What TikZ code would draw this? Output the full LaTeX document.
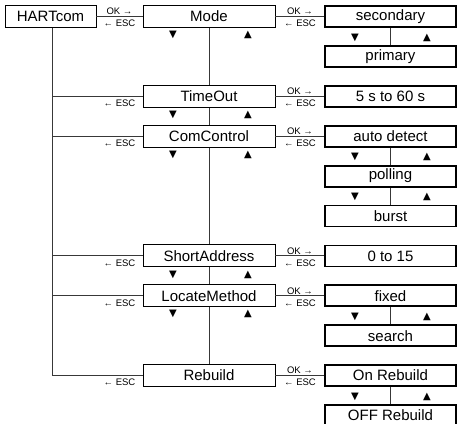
\documentclass[tikz,border=0pt]{standalone}
\usepackage{fontspec}
\setmainfont{Liberation Sans}
\newfontfamily\symfont{DejaVu Sans}
\begin{document}
\begin{tikzpicture}[x=1pt,y=-1pt,
  menu/.style={draw=black, line width=0.9pt, fill=white, minimum width=132pt, minimum height=22pt, inner sep=0pt, font=\fontsize{15}{15}\selectfont},
  val/.style={draw=black, line width=1.8pt, fill=white, minimum width=131pt, minimum height=21pt, inner sep=0pt, font=\fontsize{15}{15}\selectfont},
  conn/.style={draw=black!78, line width=0.9pt},
  lbl/.style={font=\fontsize{9.5}{9.5}\selectfont, inner sep=0pt},
  tri/.style={font=\symfont\fontsize{10}{10}\selectfont, inner sep=0pt}]
\useasboundingbox (0,0) rectangle (459,424);
\def\mx{209}
\def\vx{390.5}
% menu column
\node[menu, minimum width=91pt] (hart) at (50.5,16.5) {HARTcom};
\node[menu] (mode) at (\mx,16.5) {Mode};
\node[menu] (timeout) at (\mx,96.3) {TimeOut};
\node[menu] (comcontrol) at (\mx,136.2) {ComControl};
\node[menu] (shortaddr) at (\mx,255.9) {ShortAddress};
\node[menu] (locate) at (\mx,295.8) {LocateMethod};
\node[menu] (rebuild) at (\mx,375.6) {Rebuild};
% value column
\node[val] (secondary) at (\vx,16.5) {secondary};
\node[val] (primary) at (\vx,56.4) {primary};
\node[val] (tout) at (\vx,96.3) {5 s to 60 s};
\node[val] (auto) at (\vx,136.2) {auto detect};
\node[val] (polling) at (\vx,176.1) {polling};
\node[val] (burst) at (\vx,216) {burst};
\node[val] (addr) at (\vx,255.9) {0 to 15};
\node[val] (fixed) at (\vx,295.8) {fixed};
\node[val] (search) at (\vx,335.7) {search};
\node[val] (onreb) at (\vx,375.6) {On Rebuild};
\node[val] (offreb) at (\vx,415.5) {OFF Rebuild};
% trunk from HARTcom
\coordinate (trunk) at (52,27.5);
\draw[conn] (trunk) -- (trunk |- rebuild.west) -- (rebuild.west);
\foreach \n in {timeout,comcontrol,shortaddr,locate}
  \draw[conn] (trunk |- \n.west) -- (\n.west);
\draw[conn] (hart) -- (mode);
% menu vertical
\draw[conn] (mode) -- (timeout);
\draw[conn] (timeout) -- (comcontrol);
\draw[conn] (comcontrol) -- (shortaddr);
\draw[conn] (shortaddr) -- (locate);
\draw[conn] (locate) -- (rebuild);
% menu to value
\foreach \a/\b in {mode/secondary,timeout/tout,comcontrol/auto,shortaddr/addr,locate/fixed,rebuild/onreb}
  \draw[conn] (\a) -- (\b);
% value verticals
\foreach \a/\b in {secondary/primary,auto/polling,polling/burst,fixed/search,onreb/offreb}
  \draw[conn] (\a) -- (\b);
% OK / ESC labels
\node[lbl] (okh) at (119.5,11.5) {OK →};
\node[lbl] (esch) at (119.5,23.5) {← ESC};
\foreach \n/\y in {okm/16.5,okt/96.3,okc/136.2,oks/255.9,okl/295.8,okr/375.6}{
  \node[lbl] (\n a) at (300,\y-5) {OK →};
  \node[lbl] (\n b) at (300,\y+7) {← ESC};
}
\foreach \n/\y in {et/96.3,ec/136.2,es/255.9,el/295.8,er/375.6}
  \node[lbl] (\n) at (119.5,\y+7) {← ESC};
% triangles menu
\foreach \n/\y in {tm/16.5,tt/96.3,tc/136.2,ts/255.9,tl/295.8}{
  \node[tri] (\n d) at (173,\y+18.5) {▼};
  \node[tri] (\n u) at (248,\y+18.5) {▲};
}
% triangles values
\foreach \n/\y in {vs/36.45,va/156.15,vp/196.05,vf/315.75,vo/395.55}{
  \node[tri] (\n d) at (355,\y+1) {▼};
  \node[tri] (\n u) at (427,\y+1) {▲};
}
\end{tikzpicture}
\end{document}
